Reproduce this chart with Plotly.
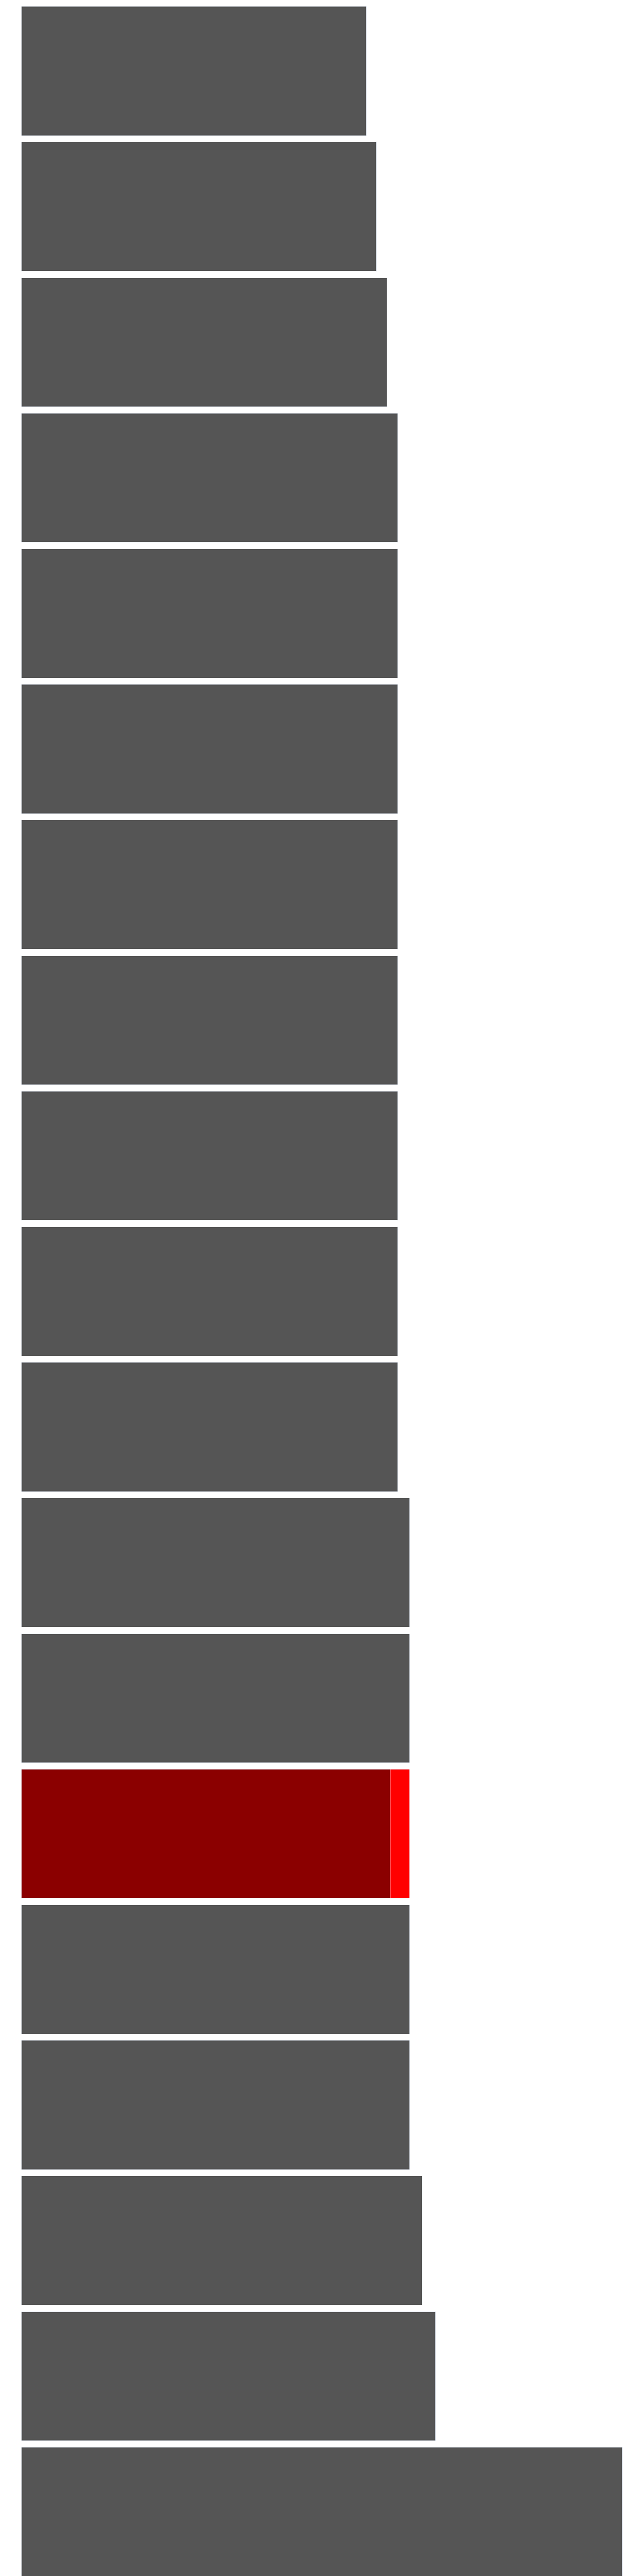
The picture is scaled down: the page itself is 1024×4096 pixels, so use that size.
import plotly.graph_objects as go

categories = [f"Item {i}" for i in range(1, 20)]
base_values = [33.0, 33.96, 34.96, 36.0, 36.0, 36.0, 36.0, 36.0, 36.0, 36.0, 36.0,
               37.13, 37.13, 35.26, 37.13, 37.13, 38.33, 39.6, 57.47]
extra_values = [0, 0, 0, 0, 0, 0, 0, 0, 0, 0, 0, 0, 0, 1.87, 0, 0, 0, 0, 0]
highlight_index = 13

base_colors = ["#555555"] * len(categories)
base_colors[highlight_index] = "#8B0000"

fig = go.Figure()
fig.add_trace(go.Bar(
    y=categories, x=base_values, orientation="h",
    marker=dict(color=base_colors, line=dict(width=0.5, color="#E5ECF6")),
    showlegend=False, hoverinfo="x+y",
))
fig.add_trace(go.Bar(
    y=categories, x=extra_values, orientation="h",
    marker=dict(color="#FF0000", line=dict(width=0.5, color="#E5ECF6")),
    showlegend=False, hoverinfo="x+y",
))

fig.update_layout(
    width=1016, height=4088,
    margin=dict(l=26, r=0, t=0, b=0, pad=0),
    barmode="stack", bargap=0.048,
    paper_bgcolor="white", plot_bgcolor="white",
    xaxis=dict(range=[0, 59.53], visible=False, showgrid=False, zeroline=False),
    yaxis=dict(range=[18.474, -0.487], visible=False, showgrid=False,
               categoryorder="array", categoryarray=categories),
)

fig.write_html("out.html")
